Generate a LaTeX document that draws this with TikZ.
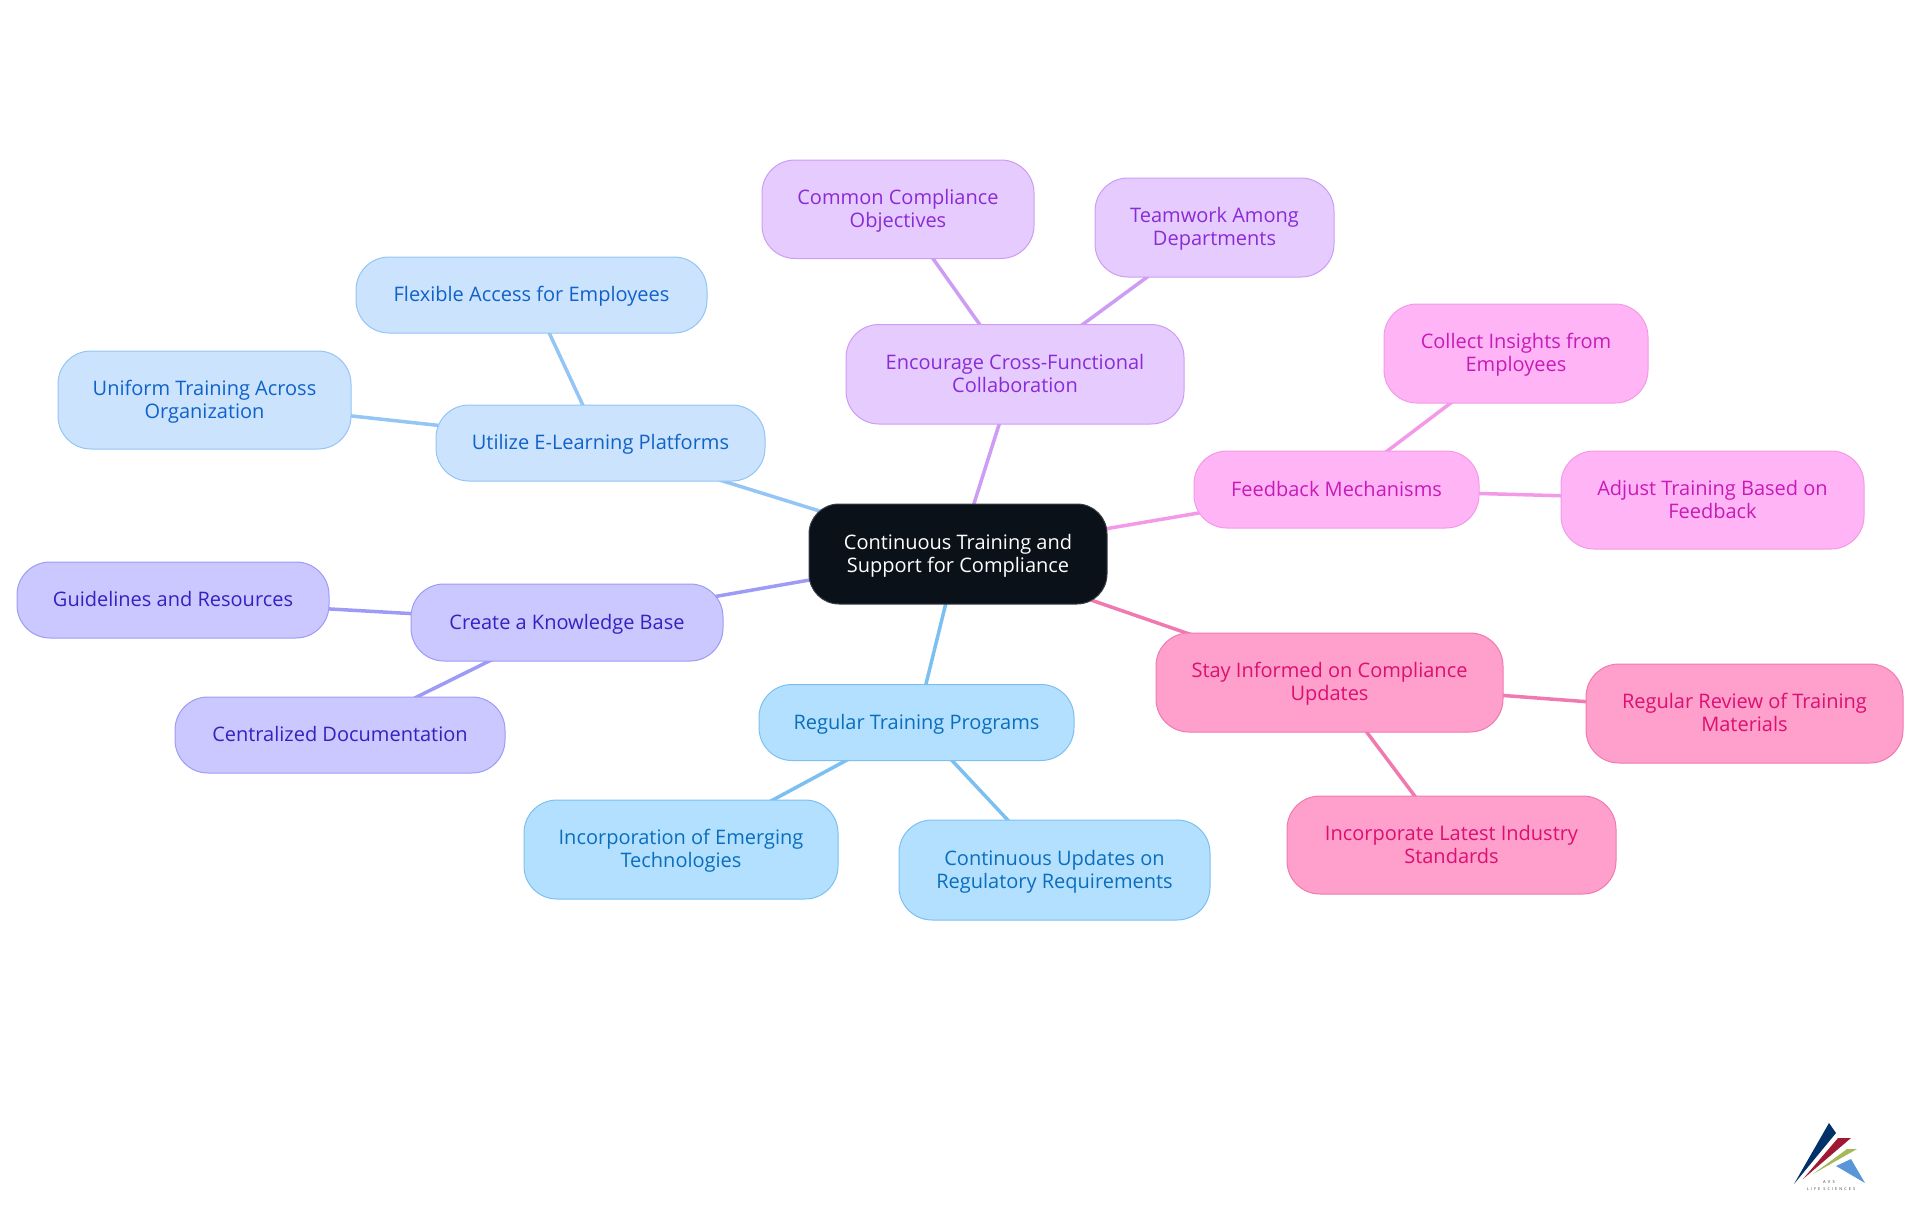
\documentclass[tikz,border=0pt]{standalone}
\usepackage{fontspec}
\setmainfont{Open Sans}
\usetikzlibrary{backgrounds}
\definecolor{rf}{HTML}{0B1119}\definecolor{rs}{HTML}{3A3F47}
\definecolor{af}{HTML}{B3E0FF}\definecolor{as}{HTML}{7CC0F2}\definecolor{at}{HTML}{0A6EBD}
\definecolor{bf}{HTML}{CCE3FD}\definecolor{bs}{HTML}{93C5F5}\definecolor{bt}{HTML}{0F62C9}
\definecolor{cf}{HTML}{CAC8FE}\definecolor{cs}{HTML}{9D9BF5}\definecolor{ct}{HTML}{3322C0}
\definecolor{df}{HTML}{E6CCFE}\definecolor{ds}{HTML}{CD9CF5}\definecolor{dt}{HTML}{8A2BD6}
\definecolor{ef}{HTML}{FFB5F5}\definecolor{es}{HTML}{F399E8}\definecolor{et}{HTML}{C81AB8}
\definecolor{ff}{HTML}{FF9FCB}\definecolor{fs}{HTML}{F07AB0}\definecolor{ft}{HTML}{DC0F72}
\tikzset{
 mm/.style={rounded corners=33pt,line width=1pt,align=center,font=\fontsize{20}{23}\selectfont,inner sep=0pt,anchor=center},
 rootbox/.style={mm,rounded corners=30pt,fill=rf,draw=rs,text=white},
 abox/.style={mm,fill=af,draw=as,text=at},
 bbox/.style={mm,fill=bf,draw=bs,text=bt},
 cbox/.style={mm,fill=cf,draw=cs,text=ct},
 dbox/.style={mm,fill=df,draw=ds,text=dt},
 ebox/.style={mm,fill=ef,draw=es,text=et},
 fbox/.style={mm,fill=ff,draw=fs,text=ft},
 link/.style={line width=3.5pt},
}
\newcommand{\st}{\rule[-5pt]{0pt}{23pt}}
% \bx{style}{name}{x0}{x1}{y0}{y1}{text}
\newcommand{\bx}[7]{\node[#1,minimum width=#4pt-#3pt,minimum height=#6pt-#5pt] (#2) at ({(#3+#4)/2*1pt},{-(#5+#6)/2*1pt}) {#7};}
\begin{document}
\begin{tikzpicture}[x=1pt,y=-1pt]
\useasboundingbox (0,0) rectangle (1920,1215);
\bx{rootbox}{root}{809}{1107}{504}{604}{\st Continuous Training and\\\st Support for Compliance}
\bx{abox}{reg}{759}{1074}{684.5}{760.5}{\st Regular Training Programs}
\bx{abox}{inc}{524}{838}{800}{899}{\st Incorporation of Emerging\\\st Technologies}
\bx{abox}{upd}{899}{1210}{820}{920}{\st Continuous Updates on\\\st Regulatory Requirements}
\bx{cbox}{know}{411}{723}{584}{661}{\st Create a Knowledge Base}
\bx{cbox}{guide}{17}{329}{562}{638}{\st Guidelines and Resources}
\bx{cbox}{cent}{175}{505}{697}{773}{\st Centralized Documentation}
\bx{bbox}{elearn}{436}{765}{405}{481}{\st Utilize E-Learning Platforms}
\bx{bbox}{flex}{356}{707}{257}{333}{\st Flexible Access for Employees}
\bx{bbox}{unif}{58}{351}{351}{449}{\st Uniform Training Across\\\st Organization}
\bx{dbox}{enc}{846}{1184}{324.5}{424}{\st Encourage Cross-Functional\\\st Collaboration}
\bx{dbox}{comm}{762}{1034}{160}{258.5}{\st Common Compliance\\\st Objectives}
\bx{dbox}{team}{1095}{1334}{178}{277}{\st Teamwork Among\\\st Departments}
\bx{ebox}{feed}{1194}{1479}{451}{528}{\st Feedback Mechanisms}
\bx{ebox}{coll}{1384}{1648}{304}{403}{\st Collect Insights from\\\st Employees}
\bx{ebox}{adj}{1561}{1864}{451}{549}{\st Adjust Training Based on\\\st Feedback}
\bx{fbox}{stay}{1156}{1503}{633}{732}{\st Stay Informed on Compliance\\\st Updates}
\bx{fbox}{rev}{1586}{1903}{664}{763}{\st Regular Review of Training\\\st Materials}
\bx{fbox}{lat}{1287}{1616}{796}{894}{\st Incorporate Latest Industry\\\st Standards}
\begin{scope}[on background layer]
\draw[link,as] (root.center)--(reg.center) (reg.center)--(inc.center) (reg.center)--(upd.center);
\draw[link,cs] (root.center)--(know.center) (know.center)--(guide.center) (know.center)--(cent.center);
\draw[link,bs] (root.center)--(elearn.center) (elearn.center)--(flex.center) (elearn.center)--(unif.center);
\draw[link,ds] (root.center)--(enc.center) (enc.center)--(comm.center) (enc.center)--(team.center);
\draw[link,es] (root.center)--(feed.center) (feed.center)--(coll.center) (feed.center)--(adj.center);
\draw[link,fs] (root.center)--(stay.center) (stay.center)--(rev.center) (stay.center)--(lat.center);
\end{scope}
% logo
\fill[fill={rgb,255:red,0;green,50;blue,105}] (1794,1184)--(1829,1123)--(1836,1133)--cycle;
\fill[fill={rgb,255:red,160;green,25;blue,50}] (1803,1179)--(1838,1138)--(1851,1138)--cycle;
\fill[fill={rgb,255:red,165;green,185;blue,90}] (1813,1174)--(1847,1149)--(1857,1149)--cycle;
\fill[fill={rgb,255:red,90;green,150;blue,215}] (1836,1166)--(1851,1159)--(1865,1183)--cycle;
\node[font=\fontsize{4}{4}\selectfont\addfontfeature{LetterSpace=60},text=black!80,inner sep=0pt] (avs) at (1829,1182.5) {AVS};
\node[font=\fontsize{3.8}{4}\selectfont\addfontfeature{LetterSpace=55},text=black!80,inner sep=0pt] (life) at (1831,1189) {LIFE SCIENCES};
\end{tikzpicture}
\end{document}
